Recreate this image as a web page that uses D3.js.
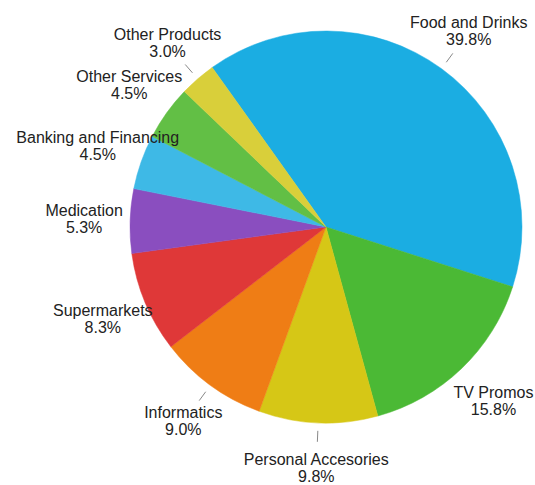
<!DOCTYPE html>
<html>
<head>
<meta charset="utf-8">
<script src="https://cdn.jsdelivr.net/npm/d3@7/dist/d3.min.js"></script>
<style>
  html, body { margin: 0; padding: 0; background: #fff; }
  svg { display: block; }
  text { font-family: "Liberation Sans", Arial, sans-serif; font-size: 16px; fill: #222; }
</style>
</head>
<body>
<svg id="chart" width="535" height="485"></svg>
<script>
// Share of spending by category (percent), clockwise from the largest slice
const categories = [
  "Food and Drinks", "TV Promos", "Personal Accesories", "Informatics",
  "Supermarkets", "Medication", "Banking and Financing", "Other Services", "Other Products"
];
const values = [39.8, 15.8, 9.8, 9.0, 8.3, 5.3, 4.5, 4.5, 3.0];
const colors = [
  "#1badE2", "#4bb935", "#d6c716", "#ef7d15",
  "#df3838", "#8a4ebf", "#3eb9e6", "#62bf45", "#d9cf3a"
];

const width = 535, height = 485;
const cx = 326, cy = 227, radius = 196;
const labelRadius = 242;
const startDeg = -35.5;

// Slices whose short leader tick stays clear of its label
const withLeader = new Set(["Food and Drinks", "Personal Accesories", "Informatics", "Other Products"]);

const svg = d3.select("#chart");
const g = svg.append("g").attr("transform", `translate(${cx},${cy})`);

const data = categories.map((c, i) => ({ name: c, value: values[i], color: colors[i] }));

const start = startDeg * Math.PI / 180;
const pie = d3.pie().sort(null).value(d => d.value)
  .startAngle(start).endAngle(start + 2 * Math.PI);
const arcs = pie(data);

const arc = d3.arc().innerRadius(0).outerRadius(radius);

g.selectAll("path.slice")
  .data(arcs)
  .join("path")
  .attr("class", "slice")
  .attr("d", arc)
  .attr("fill", d => d.data.color)
  .attr("stroke", d => d.data.color)
  .attr("stroke-width", 0.5);

const mid = d => (d.startAngle + d.endAngle) / 2;
const polar = (a, r) => [r * Math.sin(a), -r * Math.cos(a)];

// leader ticks
g.selectAll("line.leader")
  .data(arcs.filter(d => withLeader.has(d.data.name)))
  .join("line")
  .attr("class", "leader")
  .attr("x1", d => polar(mid(d), 204)[0])
  .attr("y1", d => polar(mid(d), 204)[1])
  .attr("x2", d => polar(mid(d), 215)[0])
  .attr("y2", d => polar(mid(d), 215)[1])
  .attr("stroke", "#888")
  .attr("stroke-width", 1);

// two-line labels (name, percentage), block centred on the label point
const fmt = d3.format(".1f");
const labels = g.selectAll("text.label")
  .data(arcs)
  .join("text")
  .attr("class", "label")
  .attr("text-anchor", "middle")
  .attr("transform", d => {
    const [x, y] = polar(mid(d), labelRadius);
    return `translate(${x},${y})`;
  });

labels.append("tspan")
  .attr("x", 0)
  .attr("y", -4)
  .text(d => d.data.name);
labels.append("tspan")
  .attr("x", 0)
  .attr("y", 13)
  .text(d => fmt(d.data.value) + "%");
</script>
</body>
</html>
